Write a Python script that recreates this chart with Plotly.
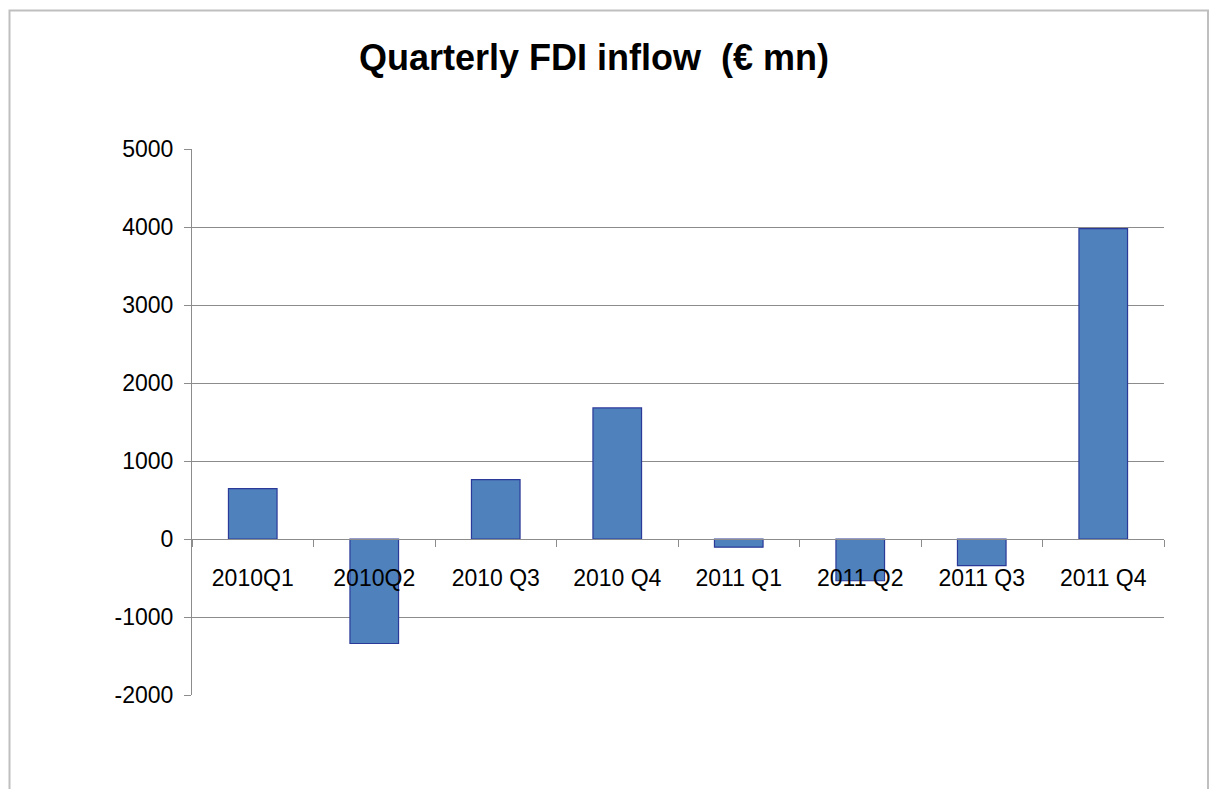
import plotly.graph_objects as go

# Dati (milioni di euro)
trimestri = ['2010Q1', '2010Q2', '2010 Q3', '2010 Q4', '2011 Q1', '2011 Q2', '2011 Q3', '2011 Q4']
afflussi = [645, -1340, 760, 1680, -105, -535, -342, 3980]
tick_valori = [-2000, -1000, 0, 1000, 2000, 3000, 4000, 5000]
tick_testi = ['-2000', '-1000', '0', '1000', '2000', '3000', '4000', '5000']

# la pagina html ha un margine di 8px attorno al grafico
off = 8
W, H = 1218 - off, 789 - off
left, right, top, bottom = 192 - off, 1164 - off, 149 - off, 695 - off

y_min, y_max = -2000, 5000
zero_pos = (0 - y_min) / (y_max - y_min)

fig = go.Figure()

fig.add_trace(go.Bar(
    x=trimestri,
    y=afflussi,
    marker=dict(color='#4F81BD', line=dict(color='#2B3A99', width=1.2)),
    hoverinfo='x+y',
))

# Cornice esterna (in coordinate paper)
pw, ph = right - left, bottom - top
fig.add_shape(
    type='rect', xref='paper', yref='paper',
    x0=(1.5 - left) / pw, x1=(1200 - left) / pw,
    y0=(bottom - 820) / ph, y1=(bottom - 2.5) / ph,
    line=dict(color='#BFBFBF', width=2),
    fillcolor='rgba(0,0,0,0)', layer='below',
)

fig.update_layout(
    width=W, height=H,
    margin=dict(l=left, r=W - right, t=top, b=H - bottom, autoexpand=False),
    paper_bgcolor='white',
    plot_bgcolor='white',
    font=dict(family='Liberation Sans, Arial, sans-serif', color='black', size=23),
    title=dict(
        text='<b>Quarterly FDI inflow  (€ mn)</b>',
        x=(594 - off) / W, xanchor='center', xref='container',
        y=1 - (57 - off) / H, yanchor='middle', yref='container',
        font=dict(size=36, color='black'),
    ),
    bargap=0.6,
    showlegend=False,
    xaxis=dict(
        anchor='free', position=zero_pos,
        showline=True, linecolor='#8C8C8C', linewidth=1,
        ticks='outside', ticklen=7, tickcolor='#8C8C8C', tickson='boundaries',
        ticklabelstandoff=18,
        showgrid=False, zeroline=False,
    ),
    yaxis=dict(
        range=[y_min, y_max], tickmode='array', tickvals=tick_valori, ticktext=tick_testi,
        showline=True, linecolor='#8C8C8C', linewidth=1,
        ticks='outside', ticklen=7, tickcolor='#8C8C8C',
        showgrid=True, gridcolor='#8C8C8C', gridwidth=1,
        zeroline=False, ticklabelstandoff=6,
    ),
)

fig.write_html("out.html")
